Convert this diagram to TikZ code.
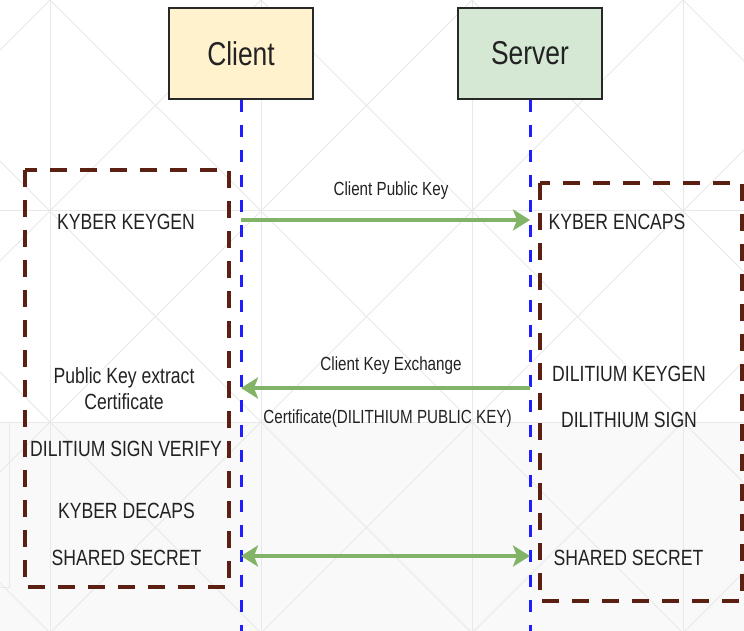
\documentclass[tikz,border=0pt]{standalone}
\usepackage{fontspec}
\setmainfont{Liberation Sans}[FakeStretch=0.8]
\usetikzlibrary{arrows.meta}

\definecolor{gridline}{RGB}{232,232,232}
\definecolor{lowershade}{RGB}{249,249,249}
\definecolor{clientfill}{RGB}{255,242,204}
\definecolor{serverfill}{RGB}{213,232,212}
\definecolor{boxedge}{RGB}{40,40,40}
\definecolor{lifeblue}{RGB}{30,30,255}
\definecolor{msggreen}{RGB}{130,179,102}
\definecolor{groupbrown}{RGB}{92,32,18}
\definecolor{textdark}{RGB}{34,34,34}

\tikzset{
  gridstroke/.style={draw=gridline, line width=1pt},
  actor/.style={draw=boxedge, line width=1.3pt, minimum width=144pt, minimum height=91pt,
                inner sep=0pt, text=textdark, font=\fontsize{33}{38}\selectfont},
  lifeline/.style={draw=lifeblue, line width=3pt, dash pattern=on 12pt off 13pt},
  message/.style={draw=msggreen, line width=3.5pt,
                  -{Stealth[length=17pt,width=21pt,inset=4pt]}},
  exchange/.style={draw=msggreen, line width=3.5pt,
                  {Stealth[length=17pt,width=21pt,inset=4pt]}-{Stealth[length=17pt,width=21pt,inset=4pt]}},
  groupbox/.style={draw=groupbrown, line width=4pt, dash pattern=on 17pt off 13pt},
  action/.style={text=textdark, inner sep=0pt, align=center, font=\fontsize{22}{26}\selectfont},
  msglabel/.style={text=textdark, inner sep=0pt, font=\fontsize{19}{22}\selectfont},
}

\begin{document}
\begin{tikzpicture}[x=1pt,y=-1pt]
\useasboundingbox (0,0) rectangle (744,631);
\fill[white] (0,0) rectangle (744,631);
\fill[lowershade] (0,422) rectangle (744,631);

% faint background grid with crossed diagonals
\begin{scope}
  \clip (0,0) rectangle (744,631);
  \foreach \x in {50,261,472,683} \draw[gridstroke] (\x,0) -- (\x,631);
  \foreach \y in {211,422} \draw[gridstroke] (0,\y) -- (744,\y);
  \foreach \c in {-583,-372,-161,50,261,472,683}
    \draw[gridstroke] (\c-50,-50) -- (\c+700,700);
  \foreach \d in {50,261,472,683,894,1105,1316}
    \draw[gridstroke] (\d+50,-50) -- (\d-700,700);
  \draw[gridstroke] (9,422) -- (9,587) -- (0,587);
\end{scope}

% participants
\node[actor, fill=clientfill] (client) at (241,53.5) {Client};
\node[actor, fill=serverfill] (server) at (530,53.5) {Server};

% group frames
\draw[groupbox] (25,170) rectangle (229,587);
\draw[groupbox] (540,183) rectangle (742,601);

% lifelines
\coordinate (clientEnd) at (241,631);
\coordinate (serverEnd) at (530,631);
\draw[lifeline] (client.south) -- (clientEnd);
\draw[lifeline] (server.south) -- (serverEnd);

% message anchor points on the lifelines
\coordinate (c1) at (241,220);
\coordinate (s1) at (530,220);
\coordinate (c2) at (241,388);
\coordinate (s2) at (530,388);
\coordinate (c3) at (241,556);
\coordinate (s3) at (530,556);

\draw[message] (c1) -- (s1);
\draw[message] (s2) -- (c2);
\draw[exchange] (c3) -- (s3);

% message labels
\node[msglabel] (lblPub) at (391,191) {Client Public Key};
\node[msglabel] (lblKex) at (391,366) {Client Key Exchange};
\node[msglabel] (lblCert) at (387.5,419) {Certificate(DILITHIUM PUBLIC KEY)};

% client side steps
\node[action] (kgen) at (126,222) {KYBER KEYGEN};
\node[action] (pkx) at (124,389) {Public Key extract\\Certificate};
\node[action] (verify) at (126,449) {DILITIUM SIGN VERIFY};
\node[action] (decaps) at (126.5,511) {KYBER DECAPS};
\node[action] (sharedC) at (126.5,558) {SHARED SECRET};

% server side steps
\node[action] (encaps) at (617,222) {KYBER ENCAPS};
\node[action] (dkgen) at (629,374) {DILITIUM KEYGEN};
\node[action] (dsign) at (629,420) {DILITHIUM SIGN};
\node[action] (sharedS) at (628.5,558) {SHARED SECRET};
\end{tikzpicture}
\end{document}
